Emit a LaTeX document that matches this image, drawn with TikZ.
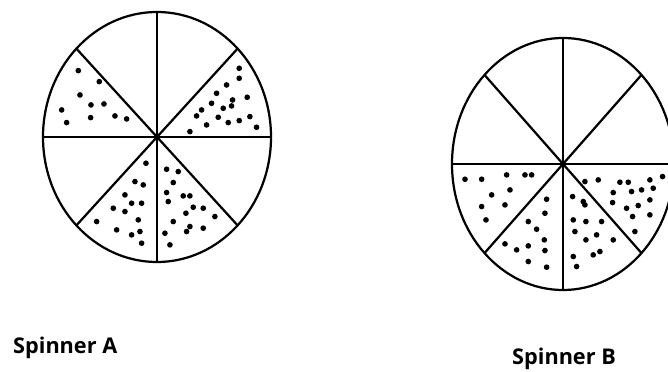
\documentclass[tikz,border=0pt]{standalone}
\usepackage{fontspec}
\setmainfont{Open Sans}
\begin{document}
\begin{tikzpicture}[x=0.03cm,y=-0.03cm,
  rim/.style={line width=1.9pt},
  spoke/.style={line width=1.9pt},
  lbl/.style={anchor=base west,inner sep=0pt,font=\fontsize{18.5}{22}\selectfont\bfseries}]
\useasboundingbox (0,0) rectangle (668,372);
% Spinner A
\coordinate (A) at (157,137);
\draw[rim] (A) ellipse [x radius=3.42cm, y radius=3.75cm];
\foreach \a in {0,45,...,315} \draw[spoke] (A) -- ++(\a:3.42cm and 3.75cm);
\fill (A) circle (0.09cm);
\begin{scope}[shift={(30,0)},x=0.01cm,y=-0.01cm]
\foreach \p in {(145,212),(208,245),(150,285),(183,315),(222,312),(95,330),(110,368),(182,353),(255,348),(290,357),
(628,205),(628,235),(590,255),(560,280),(652,292),(608,300),(545,310),(580,325),(515,330),(605,318),(500,348),(565,352),(660,350),(530,375),(595,368),(628,362),(480,395),(680,382),
(348,490),(315,545),(340,555),(285,585),(250,625),(305,610),(335,610),(285,635),(325,660),(200,665),(260,690),(305,705),(330,695),(335,730),
(410,508),(445,515),(430,548),(410,578),(460,588),(480,588),(415,605),(490,622),(520,625),(468,640),(555,650),(430,665),(480,680),(520,685),(405,700),(470,695),(420,735)}
  \fill \p circle (0.085cm);
\end{scope}
% Spinner B
\coordinate (B) at (563,164);
\draw[rim] (B) ellipse [x radius=3.33cm, y radius=3.78cm];
\foreach \a in {0,45,...,315} \draw[spoke] (B) -- ++(\a:3.33cm and 3.78cm);
\fill (B) circle (0.09cm);
\begin{scope}[shift={(450,20)},x=0.01cm,y=-0.01cm]
\foreach \p in {(45,478),(95,478),(170,465),(225,465),(245,465),(180,510),(125,525),(95,560),(165,555),(108,600),
(290,538),(285,580),(235,605),(260,628),(283,660),(165,672),(200,690),(235,678),(285,692),(235,725),(290,742),
(368,530),(400,545),(405,555),(370,600),(408,605),(455,605),(375,635),(440,645),(408,660),(490,660),(370,710),(430,705),(450,695),(380,740),
(405,485),(445,480),(510,487),(535,487),(600,480),(638,470),(490,518),(545,515),(575,510),(610,505),(488,548),(530,565),(565,557),(600,540),(548,590),(600,585),(555,635)}
  \fill \p circle (0.085cm);
\end{scope}
\node[lbl] (labA) at (13,354) {Spinner A};
\node[lbl] (labB) at (512,364) {Spinner B};
\end{tikzpicture}
\end{document}
